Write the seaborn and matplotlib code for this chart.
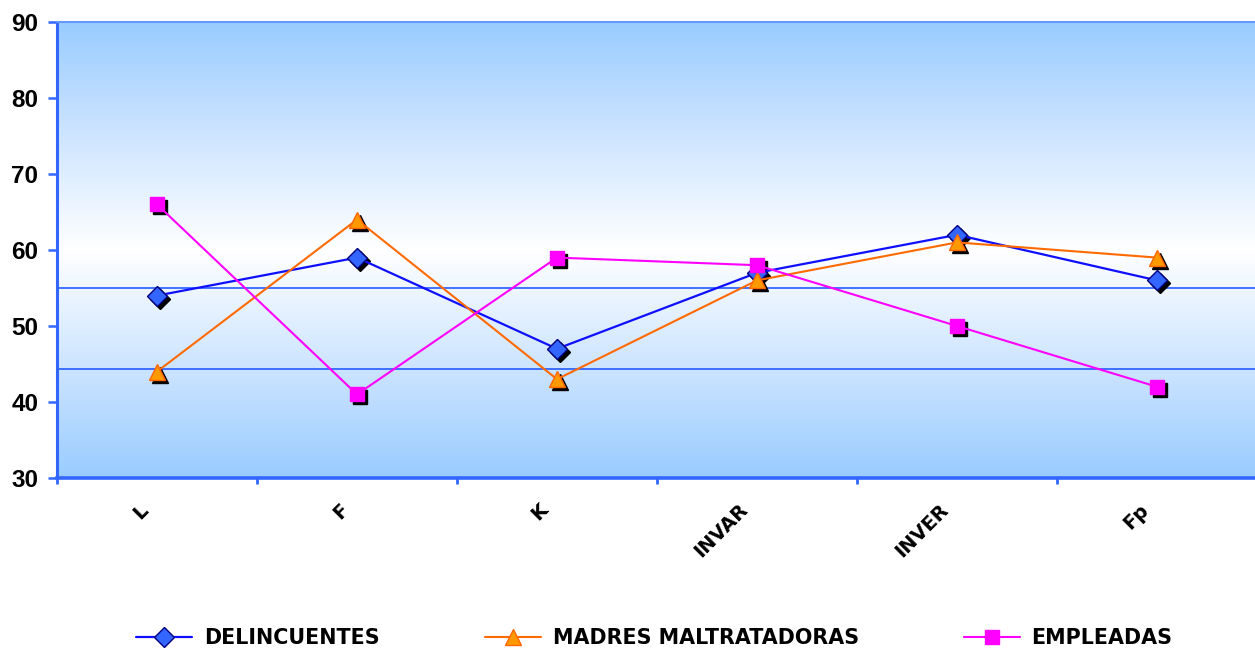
import numpy as np
import pandas as pd
import matplotlib
matplotlib.use("Agg")
import matplotlib.pyplot as plt
import matplotlib.transforms as mtransforms
from matplotlib.colors import LinearSegmentedColormap
import seaborn as sns

# Scale categories and mean scores per group
categories = ["L", "F", "K", "INVAR", "INVER", "Fp"]
delincuentes = [54, 59, 47, 57, 62, 56]
madres_maltratadoras = [44, 64, 43, 56, 61, 59]
empleadas = [66, 41, 59, 58, 50, 42]
series_names = ["DELINCUENTES", "MADRES MALTRATADORAS", "EMPLEADAS"]
reference_levels = [55, 44.4]
y_ticks = [30, 40, 50, 60, 70, 80, 90]

df = pd.DataFrame({
    "escala": categories * 3,
    "puntuacion": delincuentes + madres_maltratadoras + empleadas,
    "grupo": [series_names[0]] * 6 + [series_names[1]] * 6 + [series_names[2]] * 6,
})

sns.set_theme(style="white")
plt.rcParams["font.family"] = ["DejaVu Sans"]
plt.rcParams["text.color"] = "black"

fig = plt.figure(figsize=(12.55, 6.5), dpi=100)
ax = fig.add_axes([57 / 1255, 172 / 650, 1200 / 1255, 456 / 650])

# Vertical blue-white-blue gradient fill of the plotting area
blue = "#99CCFF"
cmap = LinearSegmentedColormap.from_list(
    "fondo", [(0.0, blue), (0.2, "#C4E0FF"), (0.5, "#FFFFFF"), (0.8, "#C4E0FF"), (1.0, blue)]
)
grad = np.linspace(0, 1, 256).reshape(-1, 1)
ax.imshow(grad, cmap=cmap, aspect="auto", extent=[0, 1, 0, 1],
          transform=ax.transAxes, zorder=0, interpolation="bicubic")

for lvl in reference_levels:
    ax.axhline(lvl, color="#3366FF", lw=1.3, zorder=1)

styles = {
    series_names[0]: dict(color="#0F0FFF", marker="D", mfc="#3366FF", mec="#000080", ms=10, lw=1.6),
    series_names[1]: dict(color="#FF6A00", marker="^", mfc="#FF9900", mec="#FF6600", ms=12, lw=1.5),
    series_names[2]: dict(color="#FF00FF", marker="s", mfc="#FF00FF", mec="#FF00FF", ms=9.5, lw=1.5),
}

shadow = mtransforms.offset_copy(ax.transData, fig=fig, x=3, y=-3, units="dots")
for name in series_names:
    st = styles[name]
    sub = df[df["grupo"] == name]
    # drop shadow under each marker
    ax.plot(np.arange(len(categories)), sub["puntuacion"].to_numpy(), linestyle="none",
            marker=st["marker"], ms=st["ms"], color="black", mec="black",
            transform=shadow, zorder=2)
    sns.lineplot(data=sub, x="escala", y="puntuacion", ax=ax, sort=False,
                 color=st["color"], lw=st["lw"], marker=st["marker"],
                 markersize=st["ms"], markerfacecolor=st["mfc"],
                 markeredgecolor=st["mec"], markeredgewidth=1.0,
                 label=name, zorder=3)

ax.set_xlim(-0.5, len(categories) - 0.5)
ax.set_ylim(30, 90)
ax.set_xlabel("")
ax.set_ylabel("")
ax.grid(False)

# Spines
for side in ["top", "right"]:
    ax.spines[side].set_visible(False)
ax.spines["left"].set_color("#3366FF")
ax.spines["left"].set_linewidth(2.2)
ax.spines["bottom"].set_color("#3366FF")
ax.spines["bottom"].set_linewidth(2.6)
ax.plot([0, 1], [1, 1], transform=ax.transAxes, color="#6699FF", lw=1.5,
        clip_on=False, zorder=4)

# Y axis
ax.set_yticks(y_ticks)
ax.set_yticklabels([str(t) for t in y_ticks])
ax.tick_params(axis="y", which="major", left=True, length=6.5, width=1.8,
               color="#3366FF", pad=7)
for lab in ax.get_yticklabels():
    lab.set_fontfamily("Liberation Sans")
    lab.set_fontweight("bold")
    lab.set_fontsize(17.5)
    lab.set_color("black")

# X axis: category labels at centres, tick marks between categories
ax.set_xticks(np.arange(len(categories)))
ax.set_xticklabels(categories, rotation=45, ha="right", va="top",
                   fontsize=14, fontweight="bold", color="black")
ax.tick_params(axis="x", which="major", bottom=False, pad=10)
ax.set_xticks(np.arange(len(categories)) - 0.5, minor=True)
ax.tick_params(axis="x", which="minor", bottom=True, length=4, width=2,
               color="#3366FF")
shift = mtransforms.ScaledTranslation(-5 / 100, 0, fig.dpi_scale_trans)
for lab in ax.get_xticklabels():
    lab.set_transform(lab.get_transform() + shift)

# Legend below the plot
if ax.get_legend():
    ax.get_legend().remove()
handles, labels = ax.get_legend_handles_labels()
leg = fig.legend(handles, labels, loc="center", bbox_to_anchor=(0.5215, 0.018),
                 ncol=3, frameon=False, handlelength=2.7, handletextpad=0.58,
                 columnspacing=5.07, prop=dict(weight="bold", size=14.9))
for t in leg.get_texts():
    t.set_color("black")

fig.savefig("out.png", dpi=100)
